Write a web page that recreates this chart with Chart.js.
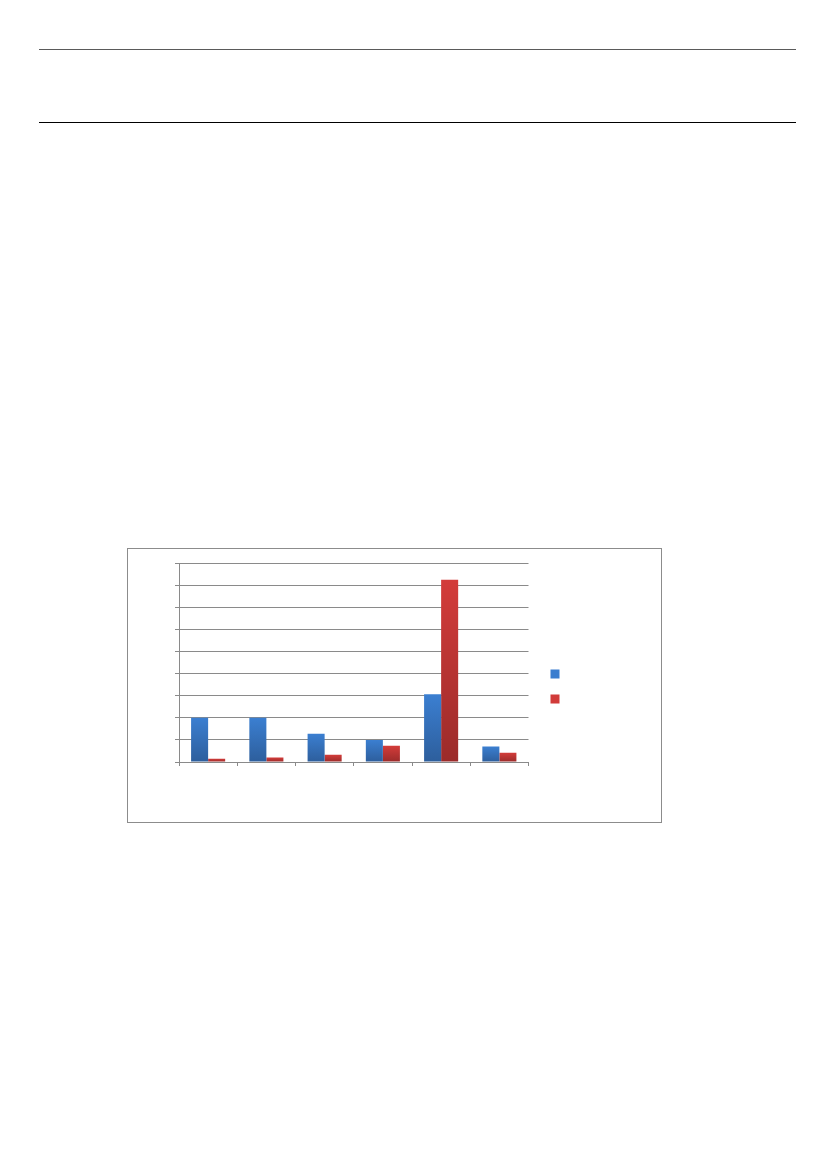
<!DOCTYPE html>
<html>
<head>
<meta charset="utf-8">
<script src="https://cdn.jsdelivr.net/npm/chart.js@4/dist/chart.umd.min.js"></script>
<style>
  html, body { margin: 0; padding: 0; background: #fff; }
  body { width: 826px; height: 1169px; position: relative; font-family: "Liberation Sans", Arial, sans-serif; }
  .rule { position: absolute; left: 39px; width: 757px; }
  #rule1 { top: 49px; border-top: 1px solid #5a5a5a; }
  #rule2 { top: 122px; border-top: 1px solid #000; }
  #frame { position: absolute; left: 127px; top: 548px; width: 533px; height: 273px; border: 1px solid #8c8c8c; }
  #frame canvas { position: absolute; left: 0; top: 0; }
</style>
</head>
<body>
<div class="rule" id="rule1"></div>
<div class="rule" id="rule2"></div>
<div id="frame"><canvas id="barChart" width="533" height="273"></canvas></div>
<script>
// categories and series (no visible labels in the source)
const categories = ['1', '2', '3', '4', '5', '6'];
const seriesNames = ['Series 1', 'Series 2'];
const blueValues = [2.0, 2.0, 1.28, 1.0, 3.06, 0.7];
const redValues = [0.15, 0.2, 0.33, 0.73, 8.24, 0.42];
const yTicks = [0, 1, 2, 3, 4, 5, 6, 7, 8, 9];

// vertical gradient per bar, light at top, darker at the base
function barFill(top, bottom) {
    return function (c) {
        const chart = c.chart;
        if (!chart.chartArea || c.raw == null) return top;
        const y = chart.scales.y;
        const g = chart.ctx.createLinearGradient(0, y.getPixelForValue(c.raw), 0, y.getPixelForValue(0));
        g.addColorStop(0, top);
        g.addColorStop(1, bottom);
        return g;
    };
}

// nudge the legend block a bit right and down, like the original
const legendNudge = {
    id: 'legendNudge',
    afterLayout: function (chart) {
        const l = chart.legend;
        if (!l) return;
        l.left += 6; l.right += 6;
        l.top += 22; l.bottom += 22;
    }
};

const ctx = document.getElementById('barChart').getContext('2d');

const chart = new Chart(ctx, {
    type: 'bar',
    data: {
        labels: categories,
        datasets: [
            {
                label: seriesNames[0],
                data: blueValues,
                backgroundColor: barFill('#3b7fd1', '#2d5e9c'),
                borderWidth: 0
            },
            {
                label: seriesNames[1],
                data: redValues,
                backgroundColor: barFill('#d33c3a', '#9b2b2a'),
                borderWidth: 0
            }
        ]
    },
    plugins: [legendNudge],
    options: {
        responsive: false,
        animation: false,
        layout: {
            padding: { left: 47, top: 14, bottom: 56, right: 93 }
        },
        datasets: {
            bar: { categoryPercentage: 0.585, barPercentage: 1.0 }
        },
        plugins: {
            tooltip: { enabled: false },
            legend: {
                position: 'right',
                labels: {
                    boxWidth: 9,
                    boxHeight: 9,
                    padding: 16,
                    font: { size: 9 },
                    generateLabels: function (chart) {
                        return [
                            { text: '', fillStyle: '#3a7dcf', strokeStyle: '#3a7dcf', lineWidth: 0, datasetIndex: 0 },
                            { text: '', fillStyle: '#d13b39', strokeStyle: '#d13b39', lineWidth: 0, datasetIndex: 1 }
                        ];
                    }
                }
            }
        },
        scales: {
            x: {
                grid: {
                    offset: true,
                    drawOnChartArea: false,
                    color: '#8a8a8a',
                    tickLength: 4
                },
                border: { color: '#8a8a8a' },
                ticks: { display: false }
            },
            y: {
                min: yTicks[0],
                max: yTicks[yTicks.length - 1],
                afterBuildTicks: function (axis) {
                    axis.ticks = yTicks.map(v => ({ value: v }));
                },
                grid: {
                    color: '#8a8a8a',
                    tickLength: 4
                },
                border: { color: '#8a8a8a' },
                ticks: { display: false }
            }
        }
    }
});
</script>
</body>
</html>
